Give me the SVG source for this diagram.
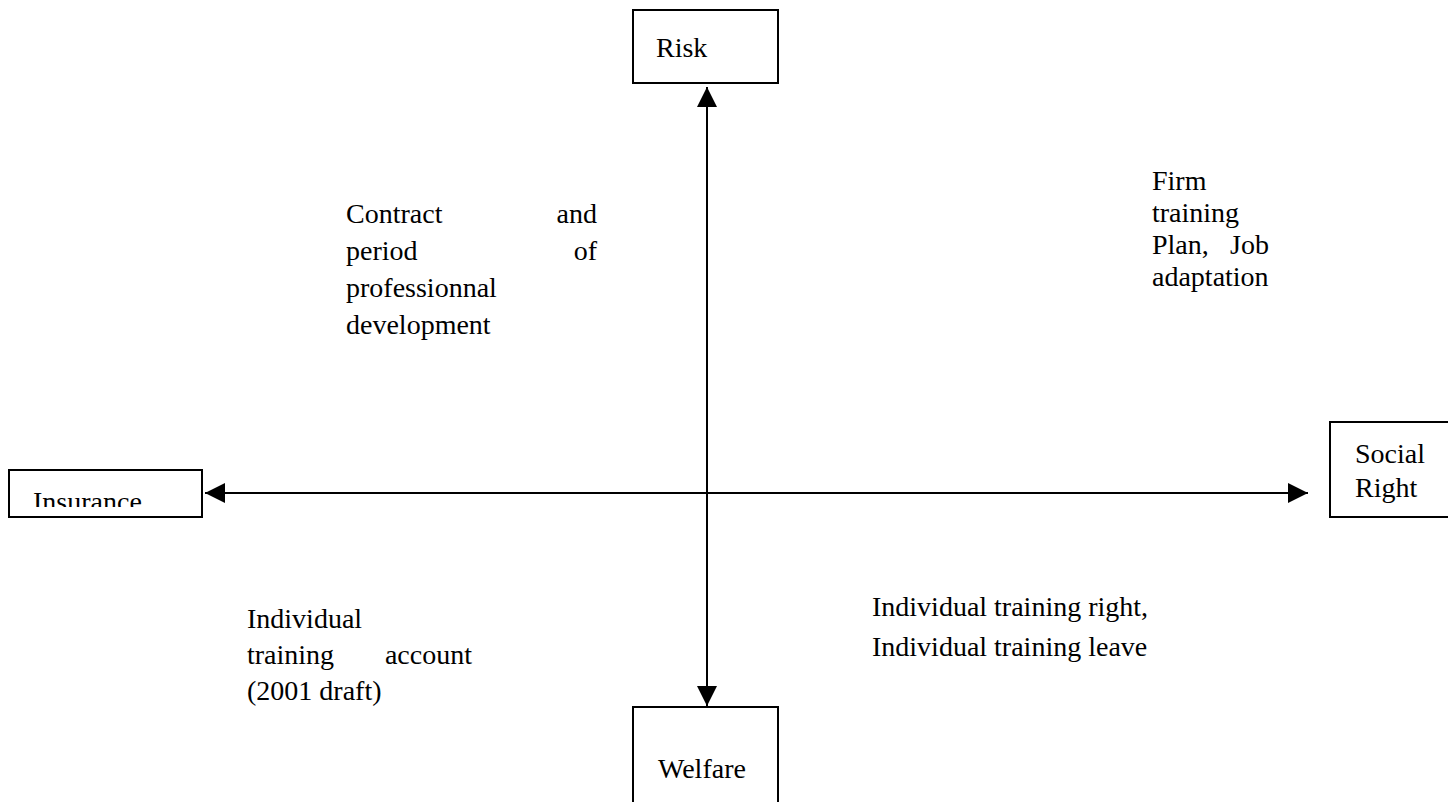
<svg xmlns="http://www.w3.org/2000/svg" width="1448" height="802" viewBox="0 0 1448 802">
<style>
.box{fill:#fff;stroke:#000;stroke-width:2}
.t{font-family:"Liberation Serif","Times New Roman",serif;font-size:28px;fill:#000}
.ax{stroke:#000;stroke-width:2;fill:none}
</style>
<defs>
<marker id="ah" markerWidth="20" markerHeight="20" refX="20" refY="10" orient="auto-start-reverse" markerUnits="userSpaceOnUse" viewBox="0 0 20 20">
<path d="M0,0 L20,10 L0,20 Z" fill="#000"/>
</marker>
<clipPath id="insclip"><rect x="9" y="470" width="193" height="37"/></clipPath>
</defs>
<rect width="1448" height="802" fill="#fff"/>
<g id="connectors">
<line class="ax" x1="707" y1="87" x2="707" y2="706" marker-start="url(#ah)" marker-end="url(#ah)"/>
<line class="ax" x1="205" y1="493" x2="1308" y2="493" marker-start="url(#ah)" marker-end="url(#ah)"/>
</g>
<g id="risk">
<rect class="box" x="633" y="10" width="145" height="73"/>
<text class="t" x="656" y="57">Risk</text>
</g>
<g id="welfare">
<rect class="box" x="633" y="707" width="145" height="120"/>
<text class="t" x="658" y="778">Welfare</text>
</g>
<g id="insurance">
<rect class="box" x="9" y="470" width="193" height="47"/>
<text class="t" x="33" y="511" clip-path="url(#insclip)">Insurance</text>
</g>
<g id="social-right">
<rect class="box" x="1330" y="422" width="130" height="95"/>
<text class="t" x="1355" y="463">Social</text>
<text class="t" x="1355" y="497">Right</text>
</g>
<g id="contract">
<text class="t" x="346" y="223">Contract</text>
<text class="t" x="597" y="223" text-anchor="end">and</text>
<text class="t" x="346" y="260">period</text>
<text class="t" x="597" y="260" text-anchor="end">of</text>
<text class="t" x="346" y="297">professionnal</text>
<text class="t" x="346" y="334">development</text>
</g>
<g id="firm">
<text class="t" x="1152" y="190">Firm</text>
<text class="t" x="1152" y="222">training</text>
<text class="t" x="1152" y="254">Plan,</text>
<text class="t" x="1269" y="254" text-anchor="end">Job</text>
<text class="t" x="1152" y="286">adaptation</text>
</g>
<g id="ita">
<text class="t" x="247" y="628">Individual</text>
<text class="t" x="247" y="664">training</text>
<text class="t" x="472" y="664" text-anchor="end">account</text>
<text class="t" x="247" y="700">(2001 draft)</text>
</g>
<g id="itr">
<text class="t" x="872" y="616">Individual training right,</text>
<text class="t" x="872" y="656">Individual training leave</text>
</g>
</svg>
